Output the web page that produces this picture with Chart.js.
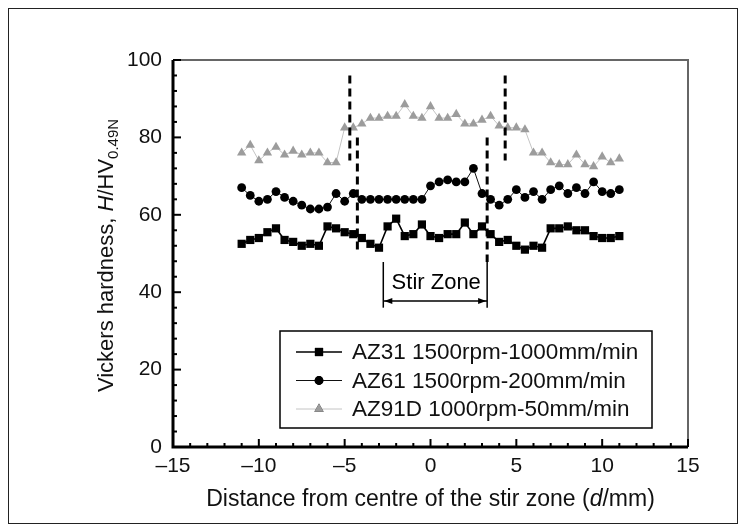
<!DOCTYPE html>
<html>
<head>
<meta charset="utf-8">
<script src="https://cdn.jsdelivr.net/npm/chart.js@4.4.1/dist/chart.umd.min.js"></script>
<style>
  html, body { margin: 0; padding: 0; background: #fff; }
  #wrap { position: relative; width: 746px; height: 532px; }
  #wrap canvas { position: absolute; left: 0; top: 0; }
  #frame { position: absolute; left: 8px; top: 8px; width: 730px; height: 516px;
           border: 1.5px solid #222; box-sizing: border-box; pointer-events: none; }
</style>
</head>
<body>
<div id="wrap">
  <canvas id="hv" width="746" height="532"></canvas>
  <div id="frame"></div>
</div>
<script>
// Hardness profiles across the friction-stir weld (step 0.5 mm)
const FONT = "'Liberation Sans', Arial, Helvetica, sans-serif";

const distance = [-11, -10.5, -10, -9.5, -9, -8.5, -8, -7.5, -7, -6.5, -6, -5.5, -5, -4.5, -4,
  -3.5, -3, -2.5, -2, -1.5, -1, -0.5, 0, 0.5, 1, 1.5, 2, 2.5, 3, 3.5, 4, 4.5, 5, 5.5,
  6, 6.5, 7, 7.5, 8, 8.5, 9, 9.5, 10, 10.5, 11];

const az31 = [52.5, 53.5, 54, 55.5, 56.5, 53.5, 53, 52, 52.5, 52, 57, 56.5, 55.5, 55, 54,
  52.5, 51.5, 57, 59, 54.5, 55, 57.5, 54.5, 54, 55, 55, 58, 55, 57, 55, 53, 53.5, 52, 51,
  52, 51.5, 56.5, 56.5, 57, 56, 56, 54.5, 54, 54, 54.5];

const az61 = [67, 65, 63.5, 64, 66, 64.5, 63.5, 62.5, 61.5, 61.5, 62, 65.5, 63.5, 65.5, 64,
  64, 64, 64, 64, 64, 64, 64, 67.5, 68.5, 69, 68.5, 68.5, 72, 65.5, 64, 62.5, 64, 66.5, 64.5,
  66, 64, 66.5, 67.5, 65.5, 67, 65.5, 68.5, 66, 65.5, 66.5];

const az91d = [76, 78, 74, 76, 77.5, 75.5, 76.5, 75.5, 76, 76, 73.5, 73.5, 82.5, 82.5, 83.5,
  85, 85, 85.5, 85.5, 88.5, 85.5, 85, 88, 85, 85, 86, 83.5, 83.5, 84.5, 85.5, 83, 82.5, 82.5, 82,
  76, 76, 73.5, 73, 73, 75.5, 73, 72.5, 75, 73.5, 74.5];

const seriesNames = ["AZ31 1500rpm-1000mm/min", "AZ61 1500rpm-200mm/min", "AZ91D 1000rpm-50mm/min"];
const xTicks = [-15, -10, -5, 0, 5, 10, 15];
const yTicks = [0, 20, 40, 60, 80, 100];

// stir-zone markers, in data units
const outerBounds = [-4.7, 4.35];   // long dashed lines
const innerBounds = [-4.26, 3.3];   // short dashed lines
const stirZone = [-2.75, 3.3];      // bracket under the label

const pts = ys => distance.map((x, i) => ({ x: x, y: ys[i] }));

function line(ctx, x1, y1, x2, y2) {
  ctx.beginPath(); ctx.moveTo(x1, y1); ctx.lineTo(x2, y2); ctx.stroke();
}

// draws a run of text pieces (normal / italic / subscript) centred on 0,0
function richText(ctx, parts, size) {
  const fontOf = p => (p.italic ? "italic " : "") + (p.sub ? Math.round(size * 0.68) : size) + "px " + FONT;
  let total = 0;
  parts.forEach(p => { ctx.font = fontOf(p); p.w = ctx.measureText(p.t).width; total += p.w; });
  let x = -total / 2;
  ctx.textBaseline = "middle"; ctx.textAlign = "left";
  parts.forEach(p => {
    ctx.font = fontOf(p);
    ctx.fillText(p.t, x, p.sub ? size * 0.3 : 0);
    x += p.w;
  });
}

const decorations = {
  id: "decorations",
  afterDatasetsDraw(chart) {
    const { ctx, scales: { x, y } } = chart;
    ctx.save();
    ctx.strokeStyle = "#000";
    ctx.lineWidth = 3;
    ctx.setLineDash([8, 5]);
    outerBounds.forEach(v => line(ctx, x.getPixelForValue(v), y.getPixelForValue(96), x.getPixelForValue(v), y.getPixelForValue(74)));
    line(ctx, x.getPixelForValue(innerBounds[0]), y.getPixelForValue(80), x.getPixelForValue(innerBounds[0]), y.getPixelForValue(50));
    line(ctx, x.getPixelForValue(innerBounds[1]), y.getPixelForValue(80), x.getPixelForValue(innerBounds[1]), y.getPixelForValue(47.8));
    ctx.setLineDash([]);

    // stir zone bracket with arrows
    ctx.lineWidth = 1.5;
    const xl = x.getPixelForValue(stirZone[0]), xr = x.getPixelForValue(stirZone[1]);
    const yTop = y.getPixelForValue(47.8), yBot = y.getPixelForValue(36), yArr = y.getPixelForValue(37.7);
    line(ctx, xl, yTop, xl, yBot);
    line(ctx, xr, yTop, xr, yBot);
    line(ctx, xl, yArr, xr, yArr);
    ctx.fillStyle = "#000";
    ctx.beginPath(); ctx.moveTo(xl + 1, yArr); ctx.lineTo(xl + 9, yArr - 3); ctx.lineTo(xl + 9, yArr + 3); ctx.fill();
    ctx.beginPath(); ctx.moveTo(xr - 1, yArr); ctx.lineTo(xr - 9, yArr - 3); ctx.lineTo(xr - 9, yArr + 3); ctx.fill();
    ctx.font = "22px " + FONT;
    ctx.textAlign = "center"; ctx.textBaseline = "middle";
    ctx.fillText("Stir Zone", (xl + xr) / 2 + 1, y.getPixelForValue(42.4));
    ctx.restore();
  },
  afterDraw(chart) {
    const { ctx, chartArea: a, scales: { x, y } } = chart;
    ctx.save();
    // plot frame: grey top/right, heavy black axes
    ctx.strokeStyle = "#666"; ctx.lineWidth = 2;
    ctx.beginPath(); ctx.moveTo(a.left, a.top); ctx.lineTo(a.right, a.top); ctx.lineTo(a.right, a.bottom); ctx.stroke();
    ctx.strokeStyle = "#000"; ctx.lineWidth = 3;
    ctx.beginPath(); ctx.moveTo(a.left, a.top); ctx.lineTo(a.left, a.bottom); ctx.lineTo(a.right, a.bottom); ctx.stroke();

    // inward ticks
    ctx.lineWidth = 2;
    for (let v = x.min; v <= x.max; v += 1) {
      const px = x.getPixelForValue(v);
      line(ctx, px, a.bottom, px, a.bottom - (v % 5 === 0 ? 8 : 4));
    }
    for (let v = y.min; v <= y.max; v += 4) {
      const py = y.getPixelForValue(v);
      line(ctx, a.left, py, a.left + (v % 20 === 0 ? 8 : 4), py);
    }

    // axis titles
    ctx.fillStyle = "#111";
    ctx.save();
    ctx.translate(107, (a.top + a.bottom) / 2 + 2);
    ctx.rotate(-Math.PI / 2);
    richText(ctx, [{ t: "Vickers hardness, " }, { t: "H", italic: true }, { t: "/HV" }, { t: "0.49N", sub: true }], 22);
    ctx.restore();
    ctx.save();
    ctx.translate((a.left + a.right) / 2, 500);
    richText(ctx, [{ t: "Distance from centre of the stir zone (" }, { t: "d", italic: true }, { t: "/mm)" }], 23);
    ctx.restore();

    // legend box
    const box = { l: 280, t: 331, r: 652, b: 428 };
    ctx.strokeStyle = "#000"; ctx.lineWidth = 1.5;
    ctx.strokeRect(box.l, box.t, box.r - box.l, box.b - box.t);
    ctx.font = "22.5px " + FONT;
    ctx.textAlign = "left"; ctx.textBaseline = "middle";
    chart.data.datasets.forEach((ds, i) => {
      const ry = 352 + i * 28.5;
      ctx.strokeStyle = ds.borderColor; ctx.lineWidth = ds.borderWidth;
      line(ctx, box.l + 16, ry, box.l + 62, ry);
      Chart.helpers.drawPoint(ctx, {
        pointStyle: ds.pointStyle, radius: ds.pointRadius, rotation: 0, borderWidth: 0
      }, box.l + 39, ry);
      ctx.fillStyle = ds.backgroundColor;
      ctx.fill();
      ctx.fillStyle = "#111";
      ctx.fillText(ds.label, box.l + 72, ry + 1);
    });
    ctx.restore();
  }
};

new Chart(document.getElementById("hv"), {
  type: "scatter",
  data: {
    datasets: [
      { label: seriesNames[0], data: pts(az31), showLine: true, borderColor: "#000", backgroundColor: "#000",
        borderWidth: 1.6, pointStyle: "rect", pointRadius: 5.8, pointBorderWidth: 0 },
      { label: seriesNames[1], data: pts(az61), showLine: true, borderColor: "#111", backgroundColor: "#000",
        borderWidth: 1, pointStyle: "circle", pointRadius: 4.4, pointBorderWidth: 0 },
      { label: seriesNames[2], data: pts(az91d), showLine: true, borderColor: "#c4c4c4", backgroundColor: "#9c9c9c",
        borderWidth: 1, pointStyle: "triangle", pointRadius: 5.4, pointBorderWidth: 0 }
    ]
  },
  options: {
    responsive: false,
    animation: false,
    events: [],
    layout: { padding: { left: 0, top: 60, right: 58, bottom: 0 } },
    plugins: { legend: { display: false }, tooltip: { enabled: false } },
    scales: {
      x: {
        type: "linear", min: -15, max: 15,
        afterFit: s => { s.height = 85; },
        afterBuildTicks: s => { s.ticks = xTicks.map(v => ({ value: v })); },
        grid: { display: false, drawTicks: false },
        border: { display: false },
        ticks: { color: "#111", padding: 7, maxRotation: 0,
          font: { family: FONT, size: 21 },
          callback: v => (v < 0 ? "\u2013" + Math.abs(v) : String(v)) }
      },
      y: {
        min: 0, max: 100,
        afterFit: s => { s.width = 173; },
        afterBuildTicks: s => { s.ticks = yTicks.map(v => ({ value: v })); },
        grid: { display: false, drawTicks: false },
        border: { display: false },
        ticks: { color: "#111", padding: 11, font: { family: FONT, size: 21 } }
      }
    }
  },
  plugins: [decorations]
});
</script>
</body>
</html>
